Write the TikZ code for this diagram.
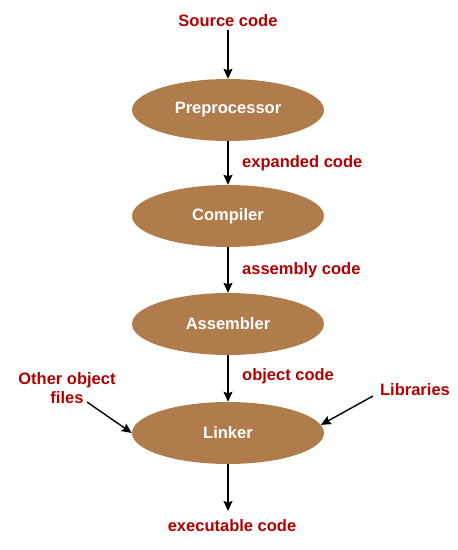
\documentclass[tikz,border=0pt]{standalone}
\usepackage{fontspec}
\setmainfont{Liberation Sans}
\usetikzlibrary{arrows.meta, shapes.geometric}
\definecolor{myred}{RGB}{178,0,0}
\definecolor{mybrown}{RGB}{176,124,76}

\tikzset{
    stage/.style={ellipse, fill=mybrown, text=white, minimum width=192pt,
        minimum height=62pt, inner sep=0pt, font=\fontsize{16.5}{19}\selectfont\bfseries},
    tag/.style={text=myred, inner sep=3pt, align=center,
        font=\fontsize{16.5}{19}\selectfont\bfseries},
    arr/.style={line width=1.4pt, -{Stealth[length=10pt, width=9pt, inset=1.5pt]}}
}

\begin{document}
\begin{tikzpicture}[x=1pt, y=-1pt]
    \useasboundingbox (0,0) rectangle (458,550);

    % Stages
    \node[stage] (pre) at (228,110) {Preprocessor};
    \node[stage] (comp) at (228,216) {Compiler};
    \node[stage] (asm) at (228,324) {Assembler};
    \node[stage] (link) at (228,433) {Linker};

    % Inputs and output
    \node[tag] (src) at (228,21) {Source code};
    \node[tag] (exe) at (232,526) {executable code};
    \node[tag] (other) at (67,388) {Other object\\files};
    \node[tag] (lib) at (415,390) {Libraries};

    % Arrow labels
    \node[tag, anchor=west] (expd) at (239,163) {expanded code};
    \node[tag, anchor=west] (asmc) at (239,270) {assembly code};
    \node[tag, anchor=west] (objc) at (239,376) {object code};

    % Free ends of the side arrows
    \coordinate (otherstart) at (87,402);
    \coordinate (libstart) at (373,396);
    \coordinate (exeend) at (228,511);

    % Arrows
    \draw[arr] (src) -- (pre);
    \draw[arr] (pre) -- (comp);
    \draw[arr] (comp) -- (asm);
    \draw[arr] (asm) -- (link);
    \draw[arr] (link) -- (exeend);
    \draw[arr] (otherstart) -- (link.west);
    \draw[arr] (libstart) -- (link.5);
\end{tikzpicture}
\end{document}
